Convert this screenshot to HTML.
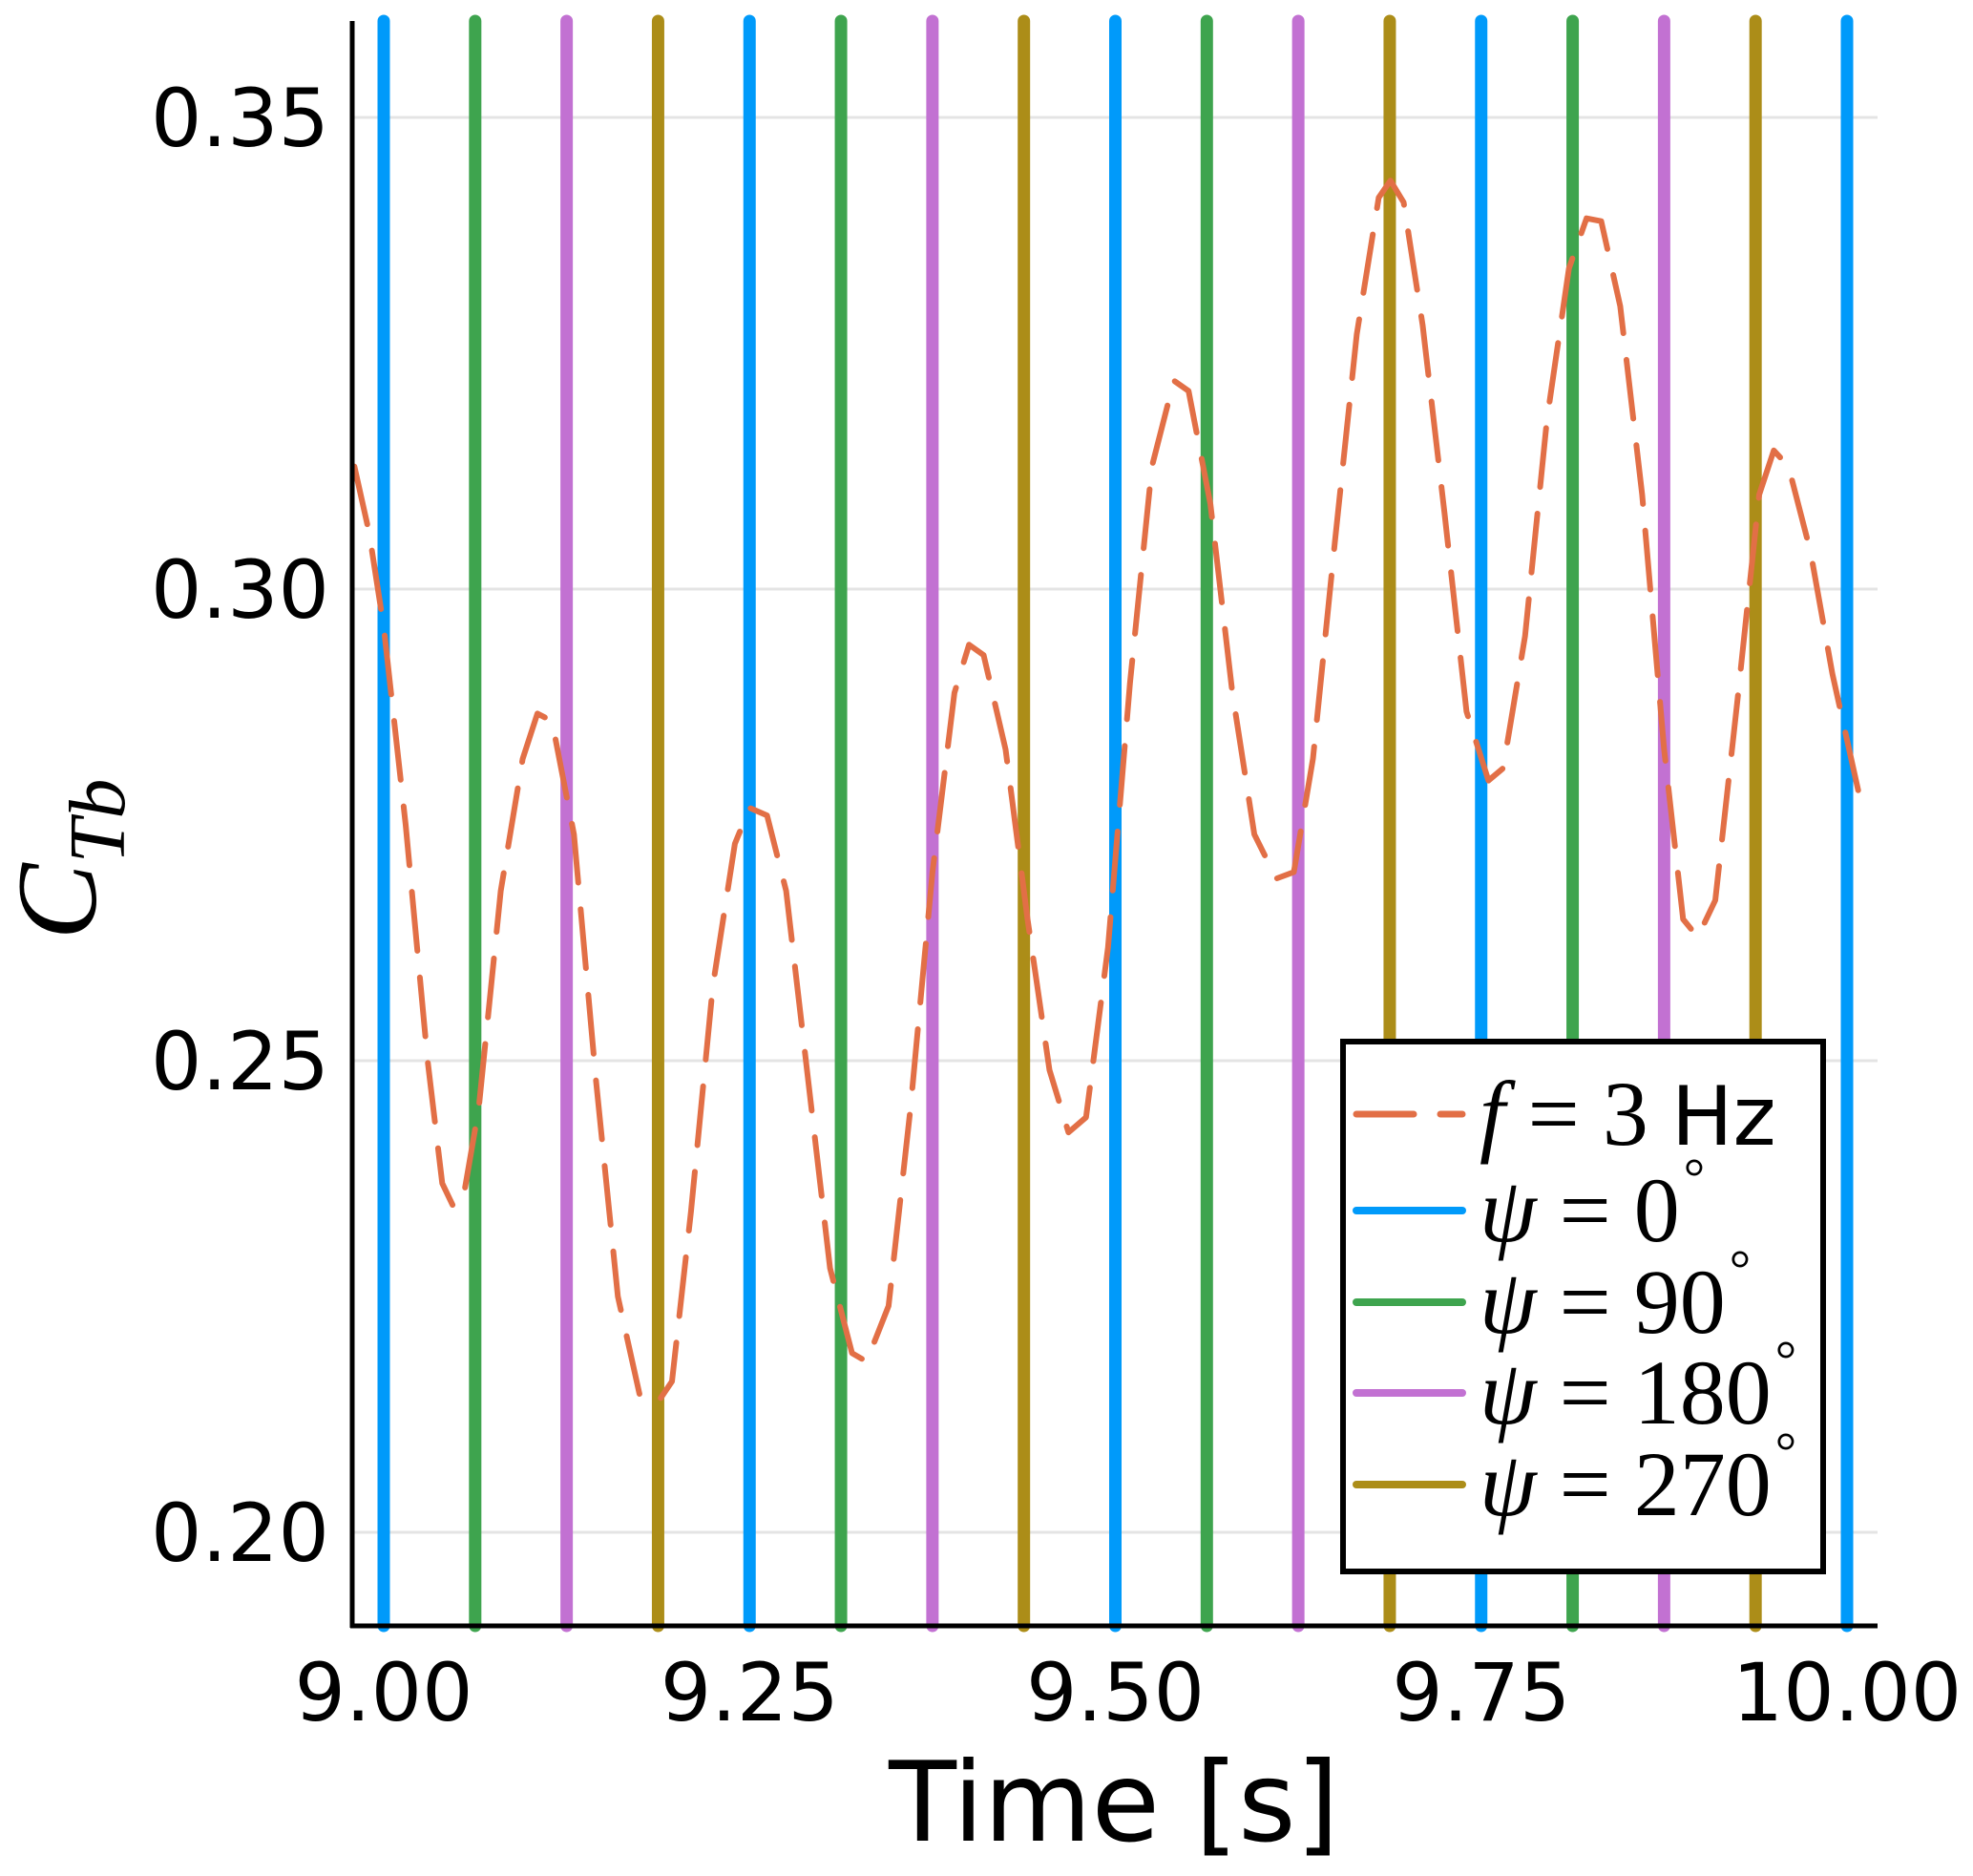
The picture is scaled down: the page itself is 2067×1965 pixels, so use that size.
<!DOCTYPE html>
<html><head><meta charset="utf-8"><style>
html,body{margin:0;padding:0;background:#fff;}
svg{display:block;}
text{font-family:"DejaVu Sans","Liberation Sans",sans-serif;}
.m{font-family:"Liberation Serif","DejaVu Serif",serif;}
</style></head><body>
<svg id="chart" width="2067" height="1965" viewBox="0 0 2067 1965" xmlns="http://www.w3.org/2000/svg">
<g id="grid"></g>
<g id="vlines"></g>
<g id="curve"></g>
<g id="axes"></g>
<text x="1167" y="1928" font-size="116" text-anchor="middle">Time [s]</text>
<g transform="translate(100,900) rotate(-90)">
<text class="m" x="0" y="0" font-size="120" font-style="italic" text-anchor="middle">C<tspan font-size="84" dy="30">Tb</tspan></text>
</g>
<g id="legend">
<rect x="1407" y="1091" width="503" height="555" fill="#fff" stroke="#000" stroke-width="6"/>
</g>
</svg>
<script>
const xTicks=[9.00,9.25,9.50,9.75,10.00];
const xTickLabels=["9.00","9.25","9.50","9.75","10.00"];
const yTicks=[0.20,0.25,0.30,0.35];
const yTickLabels=["0.20","0.25","0.30","0.35"];
const lineTimes=[9,9.0625,9.125,9.1875,9.25,9.3125,9.375,9.4375,9.5,9.5625,9.625,9.6875,9.75,9.8125,9.875,9.9375,10];
const lineSeries=[0,1,2,3,0,1,2,3,0,1,2,3,0,1,2,3,0];
const seriesNames=["ψ = 0°","ψ = 90°","ψ = 180°","ψ = 270°"];
const seriesColors=["#009AFA","#3EA44E","#C271D2","#AC8D18"];
const curveT=[8.98,8.99,9.00,9.015,9.03,9.04,9.048,9.055,9.065,9.08,9.095,9.105,9.115,9.13,9.145,9.16,9.175,9.187,9.197,9.21,9.225,9.24,9.25,9.262,9.275,9.29,9.305,9.32,9.33,9.345,9.36,9.375,9.39,9.40,9.41,9.425,9.44,9.455,9.468,9.48,9.495,9.51,9.525,9.54,9.55,9.565,9.58,9.595,9.61,9.622,9.635,9.65,9.665,9.68,9.688,9.697,9.71,9.725,9.74,9.755,9.765,9.78,9.795,9.81,9.822,9.832,9.845,9.86,9.875,9.888,9.898,9.91,9.925,9.94,9.95,9.96,9.975,9.99,10.008];
const curveV=[0.313,0.306,0.296,0.275,0.250,0.237,0.2344,0.236,0.245,0.268,0.282,0.2868,0.286,0.274,0.248,0.225,0.2145,0.2137,0.216,0.234,0.258,0.273,0.2768,0.276,0.268,0.248,0.228,0.219,0.2181,0.224,0.245,0.270,0.289,0.2941,0.293,0.283,0.265,0.249,0.2424,0.244,0.262,0.290,0.313,0.3221,0.321,0.309,0.289,0.274,0.2693,0.270,0.282,0.305,0.327,0.3415,0.3433,0.341,0.328,0.308,0.287,0.2797,0.281,0.295,0.318,0.334,0.3393,0.339,0.330,0.310,0.283,0.265,0.2631,0.267,0.288,0.310,0.3147,0.313,0.304,0.291,0.2784];

const NS="http://www.w3.org/2000/svg";
const L=369,R=1967,T=22,B=1703;
function X(t){return 402+(t-9)*1533;}
function Y(v){return 123+(0.35-v)*9880;}
function mk(tag,attrs,parent){const e=document.createElementNS(NS,tag);for(const k in attrs)e.setAttribute(k,attrs[k]);parent.appendChild(e);return e;}
const grid=document.getElementById('grid'),vl=document.getElementById('vlines'),cv=document.getElementById('curve'),ax=document.getElementById('axes'),lg=document.getElementById('legend');
yTicks.forEach((v,i)=>{
  const g=mk('line',{x1:L,x2:R,y1:Y(v),y2:Y(v),stroke:'#e4e4e4','stroke-width':3},grid);
  
  
  const t=mk('text',{x:345,y:Y(v)+30,'font-size':84,'text-anchor':'end'},ax);
  t.textContent=yTickLabels[i];
  
  
});
xTicks.forEach((v,i)=>{
  const t=mk('text',{x:X(v),y:1802,'font-size':84,'text-anchor':'middle'},ax);
  t.textContent=xTickLabels[i];
  
  
});
lineTimes.forEach((t,i)=>{
  const l=mk('line',{x1:X(t),x2:X(t),y1:T,y2:B,stroke:seriesColors[lineSeries[i]],'stroke-width':13,'stroke-linecap':'round'},vl);
  
  
});
const cp=document.createElementNS(NS,'clipPath');cp.id='clip';document.getElementById('chart').appendChild(cp);
mk('rect',{x:L,y:T,width:R-L,height:B-T},cp);
const pts=curveT.map((t,i)=>X(t).toFixed(1)+','+Y(curveV[i]).toFixed(1)).join(' ');
const pl=mk('polyline',{points:pts,fill:'none',stroke:'#E26F46','stroke-width':6,'stroke-dasharray':'62 28','stroke-linecap':'round','stroke-linejoin':'round','clip-path':'url(#clip)'},cv);


const s1=mk('line',{x1:L,x2:L,y1:T,y2:B+2,stroke:'#000','stroke-width':5},ax);


const s2=mk('line',{x1:L-2,x2:R,y1:B,y2:B,stroke:'#000','stroke-width':5},ax);


// legend
const rows=[1167,1268,1364,1459,1555];
const e0=mk('line',{x1:1421,x2:1532,y1:rows[0],y2:rows[0],stroke:'#E26F46','stroke-width':7,'stroke-dasharray':'60 28','stroke-linecap':'round'},lg);


const t0=mk('text',{x:1550,y:rows[0]+32,'font-size':86},lg);
t0.innerHTML='<tspan class="m" font-style="italic" font-size="96">f</tspan><tspan class="m" font-size="96"> = 3 </tspan><tspan>Hz</tspan>';


seriesNames.forEach((n,i)=>{
  const y=rows[i+1];
  const s=mk('line',{x1:1421,x2:1532,y1:y,y2:y,stroke:seriesColors[i],'stroke-width':8,'stroke-linecap':'round'},lg);
  
  
  const parts=n.split(' = ');
  const t=mk('text',{x:1550,y:y+32,'font-size':96,'class':'m'},lg);
  t.innerHTML='<tspan font-style="italic">ψ</tspan>  =  '+parts[1].replace('°','')+'<tspan font-size="56" dx="4" dy="-48">°</tspan>';
  t.setAttribute('xml:space','preserve');
  
  
});
</script>
</body></html>
